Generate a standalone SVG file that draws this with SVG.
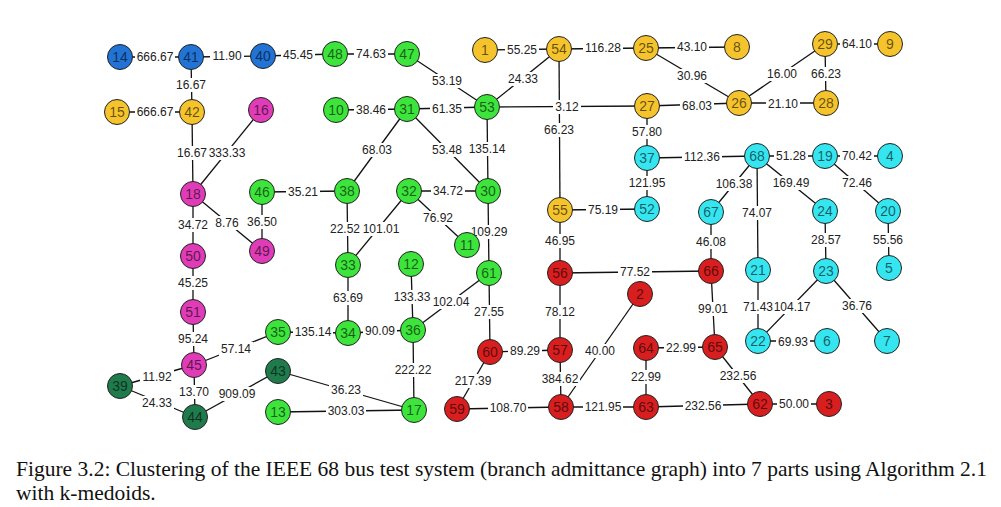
<svg xmlns="http://www.w3.org/2000/svg" width="1001" height="507" viewBox="0 0 1001 507">
<style>
.e line{stroke:#111;stroke-width:1.3}
.l rect{fill:#fff}
.l text{font-family:"Liberation Sans",Arial,sans-serif;font-size:12px;fill:#222;text-anchor:middle}
.n circle{r:12.5;stroke:#222;stroke-width:1}
.n text{font-family:"Liberation Sans",Arial,sans-serif;font-size:14px;fill:#000;fill-opacity:.6;text-anchor:middle}
.b circle{fill:#2173d6}.y circle{fill:#f5c32c}.g circle{fill:#3de43b}.d circle{fill:#1f7b4b}.m circle{fill:#e03cb8}.r circle{fill:#d81e1e}.c circle{fill:#35e5f0}
.cap{font-family:"Liberation Serif","Times New Roman",serif;font-size:21.5px;fill:#111}
</style>
<rect width="1001" height="507" fill="#fff"/>
<g id="connectors">
<g class="e">
<line x1="120" y1="57" x2="191" y2="57"/>
<line x1="191" y1="57" x2="263" y2="56"/>
<line x1="263" y1="56" x2="335" y2="54"/>
<line x1="335" y1="54" x2="407" y2="54"/>
<line x1="407" y1="54" x2="487" y2="107"/>
<line x1="485" y1="50" x2="559" y2="49"/>
<line x1="559" y1="49" x2="646" y2="48"/>
<line x1="646" y1="48" x2="737" y2="47"/>
<line x1="646" y1="48" x2="739" y2="103"/>
<line x1="825" y1="44" x2="739" y2="103"/>
<line x1="825" y1="44" x2="890" y2="44"/>
<line x1="825" y1="44" x2="826" y2="103"/>
<line x1="191" y1="57" x2="192" y2="112"/>
<line x1="117" y1="112" x2="192" y2="112"/>
<line x1="192" y1="112" x2="193" y2="194"/>
<line x1="261" y1="110" x2="193" y2="194"/>
<line x1="336" y1="110" x2="407" y2="109"/>
<line x1="407" y1="109" x2="487" y2="107"/>
<line x1="487" y1="107" x2="559" y2="49"/>
<line x1="487" y1="107" x2="647" y2="106"/>
<line x1="559" y1="49" x2="560" y2="210"/>
<line x1="647" y1="106" x2="739" y2="103"/>
<line x1="739" y1="103" x2="826" y2="103"/>
<line x1="647" y1="106" x2="647" y2="158"/>
<line x1="407" y1="109" x2="347" y2="191"/>
<line x1="407" y1="109" x2="488" y2="191"/>
<line x1="487" y1="107" x2="488" y2="191"/>
<line x1="647" y1="158" x2="757" y2="156"/>
<line x1="757" y1="156" x2="825" y2="156"/>
<line x1="825" y1="156" x2="890" y2="156"/>
<line x1="647" y1="158" x2="647" y2="209"/>
<line x1="757" y1="156" x2="711" y2="212"/>
<line x1="757" y1="156" x2="825" y2="211"/>
<line x1="825" y1="156" x2="888" y2="211"/>
<line x1="757" y1="156" x2="758" y2="270"/>
<line x1="262" y1="192" x2="347" y2="191"/>
<line x1="409" y1="191" x2="488" y2="191"/>
<line x1="560" y1="210" x2="647" y2="209"/>
<line x1="193" y1="194" x2="193" y2="256"/>
<line x1="193" y1="194" x2="262" y2="251"/>
<line x1="262" y1="192" x2="262" y2="251"/>
<line x1="347" y1="191" x2="348" y2="265"/>
<line x1="409" y1="191" x2="348" y2="265"/>
<line x1="409" y1="191" x2="467" y2="245"/>
<line x1="488" y1="191" x2="489" y2="273"/>
<line x1="560" y1="210" x2="560" y2="273"/>
<line x1="711" y1="212" x2="711" y2="271"/>
<line x1="825" y1="211" x2="826" y2="271"/>
<line x1="888" y1="211" x2="889" y2="268"/>
<line x1="193" y1="256" x2="193" y2="312"/>
<line x1="560" y1="273" x2="711" y2="271"/>
<line x1="348" y1="265" x2="348" y2="333"/>
<line x1="411" y1="264" x2="413" y2="330"/>
<line x1="489" y1="273" x2="413" y2="330"/>
<line x1="489" y1="273" x2="490" y2="352"/>
<line x1="560" y1="273" x2="560" y2="350"/>
<line x1="711" y1="271" x2="715" y2="347"/>
<line x1="758" y1="270" x2="758" y2="341"/>
<line x1="826" y1="271" x2="758" y2="341"/>
<line x1="826" y1="271" x2="887" y2="341"/>
<line x1="193" y1="312" x2="194" y2="365"/>
<line x1="194" y1="365" x2="278" y2="332"/>
<line x1="278" y1="332" x2="348" y2="333"/>
<line x1="348" y1="333" x2="413" y2="330"/>
<line x1="640" y1="294" x2="561" y2="407"/>
<line x1="646" y1="348" x2="715" y2="347"/>
<line x1="758" y1="341" x2="827" y2="341"/>
<line x1="490" y1="352" x2="560" y2="350"/>
<line x1="120" y1="386" x2="194" y2="365"/>
<line x1="194" y1="365" x2="195" y2="417"/>
<line x1="195" y1="417" x2="278" y2="371"/>
<line x1="278" y1="371" x2="414" y2="410"/>
<line x1="413" y1="330" x2="414" y2="410"/>
<line x1="490" y1="352" x2="457" y2="409"/>
<line x1="560" y1="350" x2="561" y2="407"/>
<line x1="646" y1="348" x2="646" y2="407"/>
<line x1="715" y1="347" x2="760" y2="404"/>
<line x1="120" y1="386" x2="195" y2="417"/>
<line x1="278" y1="412" x2="414" y2="410"/>
<line x1="457" y1="409" x2="561" y2="407"/>
<line x1="561" y1="407" x2="646" y2="407"/>
<line x1="646" y1="407" x2="760" y2="404"/>
<line x1="760" y1="404" x2="829" y2="404"/>
</g>
<g class="l">
<rect x="135" y="50" width="40" height="14"/><text x="155" y="61.3">666.67</text>
<rect x="210" y="49" width="34" height="14"/><text x="227" y="60.3">11.90</text>
<rect x="281" y="48" width="34" height="14"/><text x="298" y="59.3">45.45</text>
<rect x="354" y="47" width="34" height="14"/><text x="371" y="58.3">74.63</text>
<rect x="430" y="74" width="34" height="14"/><text x="447" y="85.3">53.19</text>
<rect x="505" y="43" width="34" height="14"/><text x="522" y="54.3">55.25</text>
<rect x="583" y="41" width="40" height="14"/><text x="603" y="52.3">116.28</text>
<rect x="675" y="40" width="34" height="14"/><text x="692" y="51.3">43.10</text>
<rect x="675" y="69" width="34" height="14"/><text x="692" y="80.3">30.96</text>
<rect x="765" y="67" width="34" height="14"/><text x="782" y="78.3">16.00</text>
<rect x="840" y="37" width="34" height="14"/><text x="857" y="48.3">64.10</text>
<rect x="809" y="67" width="34" height="14"/><text x="826" y="78.3">66.23</text>
<rect x="174" y="78" width="34" height="14"/><text x="191" y="89.3">16.67</text>
<rect x="135" y="105" width="40" height="14"/><text x="155" y="116.3">666.67</text>
<rect x="175" y="146" width="34" height="14"/><text x="192" y="157.3">16.67</text>
<rect x="209" y="146" width="38" height="14"/><text x="227" y="157.3">333.33</text>
<rect x="354" y="103" width="34" height="14"/><text x="371" y="114.3">38.46</text>
<rect x="430" y="102" width="34" height="14"/><text x="447" y="113.3">61.35</text>
<rect x="506" y="72" width="34" height="14"/><text x="523" y="83.3">24.33</text>
<rect x="553" y="100" width="28" height="14"/><text x="567" y="111.3">3.12</text>
<rect x="542" y="123" width="34" height="14"/><text x="559" y="134.3">66.23</text>
<rect x="680" y="99" width="34" height="14"/><text x="697" y="110.3">68.03</text>
<rect x="766" y="97" width="34" height="14"/><text x="783" y="108.3">21.10</text>
<rect x="630" y="125" width="34" height="14"/><text x="647" y="136.3">57.80</text>
<rect x="360" y="143" width="34" height="14"/><text x="377" y="154.3">68.03</text>
<rect x="430" y="143" width="34" height="14"/><text x="447" y="154.3">53.48</text>
<rect x="467" y="142" width="40" height="14"/><text x="487" y="153.3">135.14</text>
<rect x="682" y="150" width="40" height="14"/><text x="702" y="161.3">112.36</text>
<rect x="774" y="149" width="34" height="14"/><text x="791" y="160.3">51.28</text>
<rect x="840" y="149" width="34" height="14"/><text x="857" y="160.3">70.42</text>
<rect x="627" y="176" width="40" height="14"/><text x="647" y="187.3">121.95</text>
<rect x="714" y="177" width="40" height="14"/><text x="734" y="188.3">106.38</text>
<rect x="771" y="176" width="40" height="14"/><text x="791" y="187.3">169.49</text>
<rect x="840" y="176" width="34" height="14"/><text x="857" y="187.3">72.46</text>
<rect x="740" y="206" width="34" height="14"/><text x="757" y="217.3">74.07</text>
<rect x="286" y="185" width="34" height="14"/><text x="303" y="196.3">35.21</text>
<rect x="431" y="184" width="34" height="14"/><text x="448" y="195.3">34.72</text>
<rect x="586" y="203" width="34" height="14"/><text x="603" y="214.3">75.19</text>
<rect x="176" y="218" width="34" height="14"/><text x="193" y="229.3">34.72</text>
<rect x="214" y="216" width="26" height="14"/><text x="227" y="227.3">8.76</text>
<rect x="245" y="215" width="34" height="14"/><text x="262" y="226.3">36.50</text>
<rect x="328" y="222" width="34" height="14"/><text x="345" y="233.3">22.52</text>
<rect x="362" y="222" width="38" height="14"/><text x="381" y="233.3">101.01</text>
<rect x="421" y="211" width="34" height="14"/><text x="438" y="222.3">76.92</text>
<rect x="469" y="225" width="40" height="14"/><text x="489" y="236.3">109.29</text>
<rect x="543" y="234" width="34" height="14"/><text x="560" y="245.3">46.95</text>
<rect x="694" y="235" width="34" height="14"/><text x="711" y="246.3">46.08</text>
<rect x="809" y="233" width="34" height="14"/><text x="826" y="244.3">28.57</text>
<rect x="871" y="233" width="34" height="14"/><text x="888" y="244.3">55.56</text>
<rect x="176" y="276" width="34" height="14"/><text x="193" y="287.3">45.25</text>
<rect x="618" y="265" width="34" height="14"/><text x="635" y="276.3">77.52</text>
<rect x="331" y="291" width="34" height="14"/><text x="348" y="302.3">63.69</text>
<rect x="392" y="290" width="40" height="14"/><text x="412" y="301.3">133.33</text>
<rect x="431" y="295" width="40" height="14"/><text x="451" y="306.3">102.04</text>
<rect x="472" y="305" width="34" height="14"/><text x="489" y="316.3">27.55</text>
<rect x="543" y="305" width="34" height="14"/><text x="560" y="316.3">78.12</text>
<rect x="696" y="302" width="34" height="14"/><text x="713" y="313.3">99.01</text>
<rect x="742" y="300" width="32" height="14"/><text x="758" y="311.3">71.43</text>
<rect x="774" y="300" width="37" height="14"/><text x="792" y="311.3">104.17</text>
<rect x="840" y="299" width="34" height="14"/><text x="857" y="310.3">36.76</text>
<rect x="176" y="332" width="34" height="14"/><text x="193" y="343.3">95.24</text>
<rect x="219" y="342" width="34" height="14"/><text x="236" y="353.3">57.14</text>
<rect x="293" y="325" width="40" height="14"/><text x="313" y="336.3">135.14</text>
<rect x="363" y="324" width="34" height="14"/><text x="380" y="335.3">90.09</text>
<rect x="583" y="344" width="34" height="14"/><text x="600" y="355.3">40.00</text>
<rect x="664" y="341" width="34" height="14"/><text x="681" y="352.3">22.99</text>
<rect x="776" y="335" width="34" height="14"/><text x="793" y="346.3">69.93</text>
<rect x="508" y="344" width="34" height="14"/><text x="525" y="355.3">89.29</text>
<rect x="140" y="370" width="34" height="14"/><text x="157" y="381.3">11.92</text>
<rect x="177" y="385" width="34" height="14"/><text x="194" y="396.3">13.70</text>
<rect x="217" y="387" width="40" height="14"/><text x="237" y="398.3">909.09</text>
<rect x="329" y="383" width="34" height="14"/><text x="346" y="394.3">36.23</text>
<rect x="393" y="363" width="40" height="14"/><text x="413" y="374.3">222.22</text>
<rect x="453" y="374" width="40" height="14"/><text x="473" y="385.3">217.39</text>
<rect x="540" y="372" width="40" height="14"/><text x="560" y="383.3">384.62</text>
<rect x="629" y="370" width="34" height="14"/><text x="646" y="381.3">22.99</text>
<rect x="718" y="369" width="40" height="14"/><text x="738" y="380.3">232.56</text>
<rect x="140" y="396" width="34" height="14"/><text x="157" y="407.3">24.33</text>
<rect x="326" y="404" width="40" height="14"/><text x="346" y="415.3">303.03</text>
<rect x="488" y="401" width="40" height="14"/><text x="508" y="412.3">108.70</text>
<rect x="583" y="400" width="40" height="14"/><text x="603" y="411.3">121.95</text>
<rect x="683" y="399" width="40" height="14"/><text x="703" y="410.3">232.56</text>
<rect x="777" y="397" width="34" height="14"/><text x="794" y="408.3">50.00</text>
</g>
</g>
<g id="n14" class="n b"><circle cx="120" cy="57"/><text x="120" y="62">14</text></g>
<g id="n41" class="n b"><circle cx="191" cy="57"/><text x="191" y="62">41</text></g>
<g id="n40" class="n b"><circle cx="263" cy="56"/><text x="263" y="61">40</text></g>
<g id="n48" class="n g"><circle cx="335" cy="54"/><text x="335" y="59">48</text></g>
<g id="n47" class="n g"><circle cx="407" cy="54"/><text x="407" y="59">47</text></g>
<g id="n1" class="n y"><circle cx="485" cy="50"/><text x="485" y="55">1</text></g>
<g id="n54" class="n y"><circle cx="559" cy="49"/><text x="559" y="54">54</text></g>
<g id="n25" class="n y"><circle cx="646" cy="48"/><text x="646" y="53">25</text></g>
<g id="n8" class="n y"><circle cx="737" cy="47"/><text x="737" y="52">8</text></g>
<g id="n29" class="n y"><circle cx="825" cy="44"/><text x="825" y="49">29</text></g>
<g id="n9" class="n y"><circle cx="890" cy="44"/><text x="890" y="49">9</text></g>
<g id="n15" class="n y"><circle cx="117" cy="112"/><text x="117" y="117">15</text></g>
<g id="n42" class="n y"><circle cx="192" cy="112"/><text x="192" y="117">42</text></g>
<g id="n16" class="n m"><circle cx="261" cy="110"/><text x="261" y="115">16</text></g>
<g id="n10" class="n g"><circle cx="336" cy="110"/><text x="336" y="115">10</text></g>
<g id="n31" class="n g"><circle cx="407" cy="109"/><text x="407" y="114">31</text></g>
<g id="n53" class="n g"><circle cx="487" cy="107"/><text x="487" y="112">53</text></g>
<g id="n27" class="n y"><circle cx="647" cy="106"/><text x="647" y="111">27</text></g>
<g id="n26" class="n y"><circle cx="739" cy="103"/><text x="739" y="108">26</text></g>
<g id="n28" class="n y"><circle cx="826" cy="103"/><text x="826" y="108">28</text></g>
<g id="n37" class="n c"><circle cx="647" cy="158"/><text x="647" y="163">37</text></g>
<g id="n68" class="n c"><circle cx="757" cy="156"/><text x="757" y="161">68</text></g>
<g id="n19" class="n c"><circle cx="825" cy="156"/><text x="825" y="161">19</text></g>
<g id="n4" class="n c"><circle cx="890" cy="156"/><text x="890" y="161">4</text></g>
<g id="n18" class="n m"><circle cx="193" cy="194"/><text x="193" y="199">18</text></g>
<g id="n46" class="n g"><circle cx="262" cy="192"/><text x="262" y="197">46</text></g>
<g id="n38" class="n g"><circle cx="347" cy="191"/><text x="347" y="196">38</text></g>
<g id="n32" class="n g"><circle cx="409" cy="191"/><text x="409" y="196">32</text></g>
<g id="n30" class="n g"><circle cx="488" cy="191"/><text x="488" y="196">30</text></g>
<g id="n55" class="n y"><circle cx="560" cy="210"/><text x="560" y="215">55</text></g>
<g id="n52" class="n c"><circle cx="647" cy="209"/><text x="647" y="214">52</text></g>
<g id="n67" class="n c"><circle cx="711" cy="212"/><text x="711" y="217">67</text></g>
<g id="n24" class="n c"><circle cx="825" cy="211"/><text x="825" y="216">24</text></g>
<g id="n20" class="n c"><circle cx="888" cy="211"/><text x="888" y="216">20</text></g>
<g id="n50" class="n m"><circle cx="193" cy="256"/><text x="193" y="261">50</text></g>
<g id="n49" class="n m"><circle cx="262" cy="251"/><text x="262" y="256">49</text></g>
<g id="n33" class="n g"><circle cx="348" cy="265"/><text x="348" y="270">33</text></g>
<g id="n12" class="n g"><circle cx="411" cy="264"/><text x="411" y="269">12</text></g>
<g id="n11" class="n g"><circle cx="467" cy="245"/><text x="467" y="250">11</text></g>
<g id="n61" class="n g"><circle cx="489" cy="273"/><text x="489" y="278">61</text></g>
<g id="n56" class="n r"><circle cx="560" cy="273"/><text x="560" y="278">56</text></g>
<g id="n66" class="n r"><circle cx="711" cy="271"/><text x="711" y="276">66</text></g>
<g id="n21" class="n c"><circle cx="758" cy="270"/><text x="758" y="275">21</text></g>
<g id="n23" class="n c"><circle cx="826" cy="271"/><text x="826" y="276">23</text></g>
<g id="n5" class="n c"><circle cx="889" cy="268"/><text x="889" y="273">5</text></g>
<g id="n51" class="n m"><circle cx="193" cy="312"/><text x="193" y="317">51</text></g>
<g id="n35" class="n g"><circle cx="278" cy="332"/><text x="278" y="337">35</text></g>
<g id="n34" class="n g"><circle cx="348" cy="333"/><text x="348" y="338">34</text></g>
<g id="n36" class="n g"><circle cx="413" cy="330"/><text x="413" y="335">36</text></g>
<g id="n2" class="n r"><circle cx="640" cy="294"/><text x="640" y="299">2</text></g>
<g id="n64" class="n r"><circle cx="646" cy="348"/><text x="646" y="353">64</text></g>
<g id="n65" class="n r"><circle cx="715" cy="347"/><text x="715" y="352">65</text></g>
<g id="n22" class="n c"><circle cx="758" cy="341"/><text x="758" y="346">22</text></g>
<g id="n6" class="n c"><circle cx="827" cy="341"/><text x="827" y="346">6</text></g>
<g id="n7" class="n c"><circle cx="887" cy="341"/><text x="887" y="346">7</text></g>
<g id="n60" class="n r"><circle cx="490" cy="352"/><text x="490" y="357">60</text></g>
<g id="n57" class="n r"><circle cx="560" cy="350"/><text x="560" y="355">57</text></g>
<g id="n45" class="n m"><circle cx="194" cy="365"/><text x="194" y="370">45</text></g>
<g id="n39" class="n d"><circle cx="120" cy="386"/><text x="120" y="391">39</text></g>
<g id="n43" class="n d"><circle cx="278" cy="371"/><text x="278" y="376">43</text></g>
<g id="n44" class="n d"><circle cx="195" cy="417"/><text x="195" y="422">44</text></g>
<g id="n13" class="n g"><circle cx="278" cy="412"/><text x="278" y="417">13</text></g>
<g id="n17" class="n g"><circle cx="414" cy="410"/><text x="414" y="415">17</text></g>
<g id="n59" class="n r"><circle cx="457" cy="409"/><text x="457" y="414">59</text></g>
<g id="n58" class="n r"><circle cx="561" cy="407"/><text x="561" y="412">58</text></g>
<g id="n63" class="n r"><circle cx="646" cy="407"/><text x="646" y="412">63</text></g>
<g id="n62" class="n r"><circle cx="760" cy="404"/><text x="760" y="409">62</text></g>
<g id="n3" class="n r"><circle cx="829" cy="404"/><text x="829" y="409">3</text></g>
<text class="cap" x="16" y="476">Figure 3.2: Clustering of the IEEE 68 bus test system (branch admittance graph) into 7 parts using Algorithm 2.1</text>
<text class="cap" x="16" y="500">with k-medoids.</text>
</svg>
